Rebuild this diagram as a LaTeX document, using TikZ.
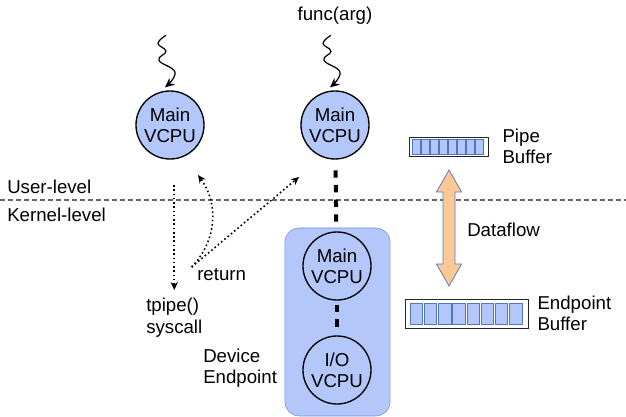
\documentclass[tikz,border=0pt]{standalone}
\usepackage{fontspec}
\setmainfont{Liberation Sans}
\usetikzlibrary{positioning, arrows.meta}
\definecolor{vcpuBlue}{RGB}{180,199,250}
\definecolor{boxEdge}{RGB}{108,142,214}
\definecolor{cellEdge}{RGB}{80,118,190}
\definecolor{flowOrange}{RGB}{252,201,150}
\definecolor{flowEdge}{RGB}{90,125,190}

\begin{document}
\begin{tikzpicture}[x=0.75pt, y=-0.75pt, font=\fontsize{14}{16}\selectfont,
  vcpu/.style={circle, draw, line width=1pt, fill=vcpuBlue, minimum size=51pt, inner sep=0pt, align=center},
  lbl/.style={align=left, inner sep=0pt},
  buf/.style={draw=black!85, fill=white, inner sep=0pt},
  cell/.style={draw=cellEdge, fill=vcpuBlue},
  call/.style={-{Stealth[length=6pt,width=5.5pt]}, line width=1.2pt, dotted},
  link/.style={line width=3pt, dash pattern=on 5.5pt off 5.5pt},
  wiggle/.style={-{Stealth[length=7pt,width=6.5pt]}, line width=0.9pt}]
  \useasboundingbox (0,0) rectangle (626,417);

  % user / kernel boundary
  \draw[black!60, line width=0.8pt, dash pattern=on 3.5pt off 2.5pt] (0,200) -- (626,200);
  \node[lbl, anchor=west] (user) at (7,187) {User-level};
  \node[lbl, anchor=west] (kern) at (7,215) {Kernel-level};

  % user side vcpus
  \node[vcpu] (m1) at (170,125) {Main\\VCPU};
  \node[vcpu] (m2) at (335,125) {Main\\VCPU};
  \node[lbl] (fn) at (335,16) {func(arg)};
  \foreach \m in {m1, m2}
    \draw[wiggle] plot[smooth, tension=0.75] coordinates {([shift={(-4,-55)}]\m.north)
      ([shift={(-12,-47)}]\m.north) ([shift={(-4,-39)}]\m.north) ([shift={(-11,-30)}]\m.north)
      ([shift={(5,-18)}]\m.north) ([shift={(-5,-3)}]\m.north)};

  % device endpoint
  \node[draw=boxEdge, fill=vcpuBlue, rounded corners=11pt, minimum width=79pt, minimum height=141pt] (ep) at (337.5,322) {};
  \node[vcpu] (m3) at (337,266) {Main\\VCPU};
  \node[vcpu] (io) at (337,370) {I/O\\VCPU};
  \draw[link, shorten <=8pt, shorten >=4pt] (m2) -- (ep);
  \draw[link, shorten <=3pt, shorten >=2pt] (m3) -- (io);
  \node[lbl, anchor=west] (dev) at (203,368) {Device\\Endpoint};

  % syscall path
  \node[lbl, anchor=north west] (sys) at (146,298) {tpipe()\\syscall};
  \node[lbl, anchor=west] (ret) at (197,275) {return};
  \coordinate (trap) at (sys.north |- 0,185);
  \coordinate (back1) at (198,175);
  \coordinate (back2) at (299,177);
  \draw[call] (trap) -- ([yshift=6pt]sys.north);
  \draw[call] ([xshift=-4pt,yshift=6pt]ret.west) to[bend right=40] (back1);
  \draw[call] ([xshift=-4pt,yshift=6pt]ret.west) -- (back2);

  % buffers
  \node[buf, minimum width=59.25pt, minimum height=14.25pt] (pipebuf) at (448.5,146.5) {};
  \foreach \i in {0,...,7}
    \draw[cell] (412+9.1*\i,139) rectangle +(8,15);
  \node[lbl, right=10.5pt of pipebuf] (pipelbl) {Pipe\\Buffer};

  \node[buf, minimum width=92.25pt, minimum height=21.75pt] (epbuf) at (466.5,313.5) {};
  \foreach \i in {0,...,7}
    \draw[cell] (410+14.2*\i,303) rectangle +(12.5,21);
  \node[lbl, right=6.75pt of epbuf] (eplbl) {Endpoint\\Buffer};

  % dataflow between the two buffers
  \draw[draw=flowEdge, fill=flowOrange, line width=0.6pt] (449,170) -- (461.5,192) -- (455,192) -- (455,264)
    -- (461.5,264) -- (449,286) -- (436.5,264) -- (443,264) -- (443,192) -- (436.5,192) -- cycle;
  \node[lbl, anchor=west] (df) at (467,230) {Dataflow};
\end{tikzpicture}
\end{document}
